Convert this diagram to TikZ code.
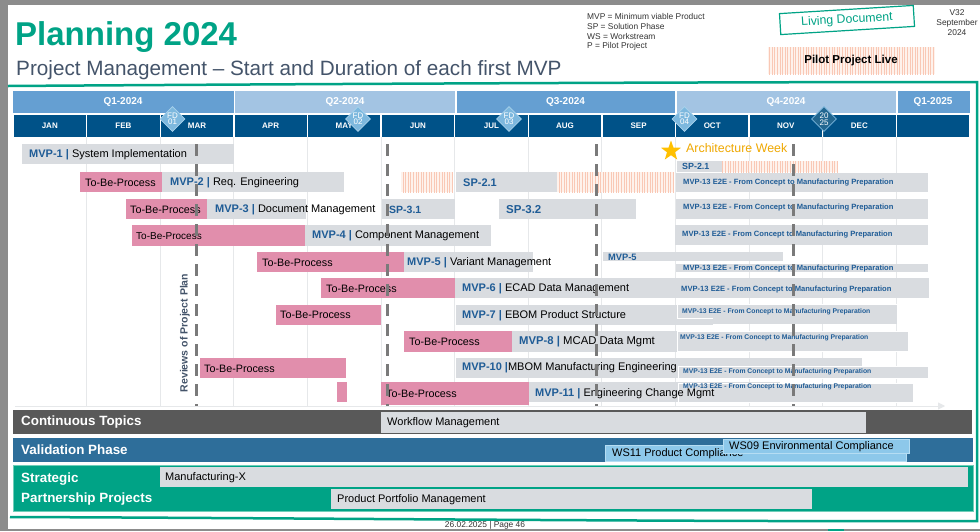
\documentclass[tikz,border=0pt]{standalone}
\usepackage{fontspec}
\setmainfont{Liberation Sans}
\usetikzlibrary{shapes.geometric,patterns.meta,arrows.meta}
\definecolor{pagegray}{HTML}{8C8C8C}
\definecolor{tealc}{HTML}{00A386}
\definecolor{subc}{HTML}{44546A}
\definecolor{legc}{HTML}{333333}
\definecolor{qdark}{HTML}{659FD2}
\definecolor{qlight}{HTML}{A3C4E3}
\definecolor{monc}{HTML}{005288}
\definecolor{fdc}{HTML}{7DB8DE}
\definecolor{fdb}{HTML}{A9D2EC}
\definecolor{fdd}{HTML}{236790}
\definecolor{gridc}{HTML}{E6E8EA}
\definecolor{barg}{HTML}{D9DCE0}
\definecolor{pinkc}{HTML}{E18EAC}
\definecolor{mvpblue}{HTML}{1F5C96}
\definecolor{hatchbg}{HTML}{FEF2EC}
\definecolor{hatchc}{HTML}{F9C8B5}
\definecolor{dashc}{HTML}{7A7A7A}
\definecolor{starc}{HTML}{FFC000}
\definecolor{archc}{HTML}{EFA800}
\definecolor{contc}{HTML}{595959}
\definecolor{valc}{HTML}{2E6E9A}
\definecolor{wsc}{HTML}{8DC8EA}
\definecolor{wsb}{HTML}{B5DDF3}
\definecolor{tealb}{HTML}{6FCDB8}
\newcommand\fsz[1]{\fontsize{#1}{#1}\selectfont}
\newcommand\gb[4]{\fill[barg] (#1,#2) rectangle (#3,#4);}
\newcommand\pb[4]{\fill[pinkc] (#1,#2) rectangle (#3,#4);}
\newcommand\hb[4]{\fill[hatchbg] (#1,#2) rectangle (#3,#4);
  \fill[pattern={Lines[angle=90,distance=2.6pt,line width=1pt]},pattern color=hatchc] (#1,#2) rectangle (#3,#4);}
\newcommand\mv[2]{\textcolor{mvpblue}{\textbf{#1 |}} #2}
\newcommand\mtxt{MVP-13 E2E - From Concept to Manufacturing Preparation}
\begin{document}
\begin{tikzpicture}[x=1pt,y=-1pt,
  lbl/.style={anchor=west,inner sep=0pt,font=\fsz{11}},
  tbp/.style={lbl,font=\fsz{10.75}},
  m13/.style={anchor=west,inner sep=0pt,font=\bfseries\fsz{7.6},text=mvpblue},
  m13s/.style={m13,font=\bfseries\fsz{6.8}},
  spl/.style={anchor=west,inner sep=0pt,font=\bfseries\fsz{11},text=mvpblue},
  qcell/.style={font=\bfseries\fsz{10},text=white,inner sep=0pt},
  mcell/.style={font=\bfseries\fsz{8},text=white,inner sep=0pt},
  fd/.style={diamond,aspect=1,minimum size=25pt,inner sep=0pt,fill=fdc,draw=fdb,line width=0.8pt,text=white,font=\fsz{8},align=center},
  dashline/.style={draw=dashc,line width=3pt,dash pattern=on 12pt off 8pt},
  band/.style={anchor=west,inner sep=0pt,font=\bfseries\fsz{13.4},text=white},
  legend/.style={anchor=west,inner sep=0pt,font=\fsz{8.4},text=legc}]
\useasboundingbox (0,0) rectangle (980,531);
% page
\fill[pagegray] (0,0) rectangle (980,531);
\fill[white] (8,5) rectangle (980,528.5);
% frame line
\draw[tealc,line width=2.5pt] (8,86) .. controls (300,84) and (700,82) .. (977,82) -- (977,521) .. controls (700,522) and (300,518) .. (10,517);
% title
\node[anchor=base west,inner sep=0pt,font=\bfseries\fsz{33},text=tealc] (title) at (15,45) {Planning 2024};
\node[anchor=base west,inner sep=0pt,font=\fsz{20.7},text=subc] (subtitle) at (16,75) {Project Management -- Start and Duration of each first MVP};
% legend
\node[legend] (lg1) at (587,16) {MVP = Minimum viable Product};
\node[legend] (lg2) at (587,26) {SP = Solution Phase};
\node[legend] (lg3) at (587,36) {WS = Workstream};
\node[legend] (lg4) at (587,46) {P = Pilot Project};
\node[rotate=3.5,draw=tealc,line width=1.2pt,text=tealc,font=\fsz{12.3},minimum width=134pt,minimum height=21pt,inner sep=0pt] (living) at (847,20) {Living Document};
\node[font=\fsz{8.4},text=legc,align=center,inner sep=0pt] (ver) at (957,23) {V32\\[1.6pt]September\\[1.6pt]2024};
\hb{768}{47}{935}{74}
\node[font=\bfseries\fsz{11.5},inner sep=0pt] (pilot) at (851,61) {Pilot Project Live};
% quarter row
\fill[qdark] (13,91) rectangle (233.5,113);
\fill[qlight] (235,91) rectangle (455,113);
\fill[qdark] (456.5,91) rectangle (675,113);
\fill[qlight] (676.5,91) rectangle (896,113);
\fill[qdark] (897.5,91) rectangle (969.5,113);
\node[qcell] (q1) at (123,102) {Q1-2024};
\node[qcell] (q2) at (345,102) {Q2-2024};
\node[qcell] (q3) at (565.5,102) {Q3-2024};
\node[qcell] (q4) at (786,102) {Q4-2024};
\node[qcell] (q5) at (933,102) {Q1-2025};
% month row
\foreach \m [count=\k from 0] in {JAN,FEB,MAR,APR,MAY,JUN,JUL,AUG,SEP,OCT,NOV,DEC,{}} {
  \fill[monc] ({13+73.6*\k+0.7},114.5) rectangle ({13+73.6*(\k+1)-0.7},137);
  \node[mcell] (mon\k) at ({13+73.6*(\k+0.5)},126) {\m};
}
% grid
\foreach \k in {1,...,12} \draw[gridc,line width=0.7pt] ({13+73.6*\k},137) -- ({13+73.6*\k},406);
\draw[gridc,line width=0.9pt,-{Triangle[length=7pt,width=7pt]}] (15,406) -- (945,406);
% diamonds
\draw[fdd,line width=0.8pt] (823.5,120) -- (823.5,137);
\node[fd] (fd1) at (172.5,119) {FD\\[-1.5pt]01};
\node[fd] (fd2) at (358,119) {FD\\[-1.5pt]02};
\node[fd] (fd3) at (509,119) {FD\\[-1.5pt]03};
\node[fd] (fd4) at (684.5,119) {FD\\[-1.5pt]04};
\node[fd,fill=fdd,draw=fdc] (fd5) at (824,119) {20\\[-1.5pt]25};
% ---------------- bars ----------------
% row 1
\gb{22}{144}{234}{164}
\node[lbl] (r1) at (29,154.5) {\mv{MVP-1}{System Implementation}};
\node[star,star points=5,star point ratio=2.5,fill=starc,minimum size=21pt,inner sep=0pt] (star) at (671,151) {};
\node[lbl,font=\fsz{12.4},text=archc] (arch) at (686,148.5) {Architecture Week};
\gb{677}{161}{722}{172}
\hb{722}{161}{838}{172}
\node[spl,font=\bfseries\fsz{8.9}] (sp21s) at (682,166.5) {SP-2.1};
% row 2
\pb{80}{172}{162}{192}
\node[tbp] (p2) at (85,182.5) {To-Be-Process};
\gb{162}{172}{344}{192}
\node[lbl] (r2) at (170,182.5) {\mv{MVP-2}{Req. Engineering}};
\hb{401}{172}{453}{192}
\gb{456}{172}{557}{192}
\node[spl] (sp21) at (463,182.5) {SP-2.1};
\hb{557}{172}{674}{192}
\gb{676}{173}{928}{192}
\node[m13] (m2) at (683,183) {\mtxt};
% row 3
\pb{126}{199}{207}{219}
\node[tbp] (p3) at (130,209.5) {To-Be-Process};
\gb{207}{199}{306}{219}
\node[lbl] (r3) at (215,209.5) {\mv{MVP-3}{Document Management}};
\gb{382}{199}{455}{219}
\node[spl,font=\bfseries\fsz{10.5}] (sp31) at (389,209.5) {SP-3.1};
\gb{499}{199}{636}{219}
\node[spl,font=\bfseries\fsz{11.5}] (sp32) at (506,209.5) {SP-3.2};
\gb{676}{199}{928}{219}
\node[m13] (m3) at (683,208) {\mtxt};
% row 4
\pb{132}{225}{305}{246}
\node[tbp,font=\fsz{10}] (p4) at (136,236) {To-Be-Process};
\gb{305}{225}{491}{246}
\node[lbl] (r4) at (312,236) {\mv{MVP-4}{Component Management}};
\gb{675}{225}{928}{245}
\node[m13] (m4) at (682,235) {\mtxt};
% row 5
\pb{257}{252}{404}{272}
\node[tbp] (p5) at (262,262.5) {To-Be-Process};
\gb{404}{252}{533}{272}
\node[lbl] (r5) at (407,262.5) {\mv{MVP-5}{Variant Management}};
\gb{603}{252}{783}{261}
\node[spl,font=\bfseries\fsz{9.3}] (mvp5s) at (608,257) {MVP-5};
\gb{676}{264}{928}{272}
\node[m13] (m5) at (683,269) {\mtxt};
% row 6
\pb{321}{278}{455}{298}
\node[tbp] (p6) at (326,288.5) {To-Be-Process};
\gb{455}{278}{676}{298}
\node[lbl] (r6) at (462,288.5) {\mv{MVP-6}{ECAD Data Management}};
\gb{676}{278}{929}{298}
\node[m13] (m6) at (681,290) {\mtxt};
% row 7
\pb{276}{305}{381}{325}
\node[tbp] (p7) at (280,315) {To-Be-Process};
\gb{456}{305}{713}{325}
\filldraw[fill=barg,draw=white,line width=0.6pt] (677,304) rectangle (897,318);
\fill[barg] (713,318.3) rectangle (897,324);
\node[lbl] (r7) at (462,315.5) {\mv{MVP-7}{EBOM Product Structure}};
\node[m13s] (m7) at (682,312) {\mtxt};
% row 8
\pb{404}{331}{512}{352}
\node[tbp] (p8) at (409,341.5) {To-Be-Process};
\gb{512}{331}{819}{352}
\filldraw[fill=barg,draw=white,line width=0.6pt] (677,331) rectangle (908,351);
\node[lbl,font=\fsz{11.3}] (r8) at (519,342) {\mv{MVP-8}{MCAD Data Mgmt}};
\node[m13s] (m8) at (680,338) {\mtxt};
% row 9
\pb{200}{358}{346}{378}
\node[tbp] (p9) at (204,368.5) {To-Be-Process};
\gb{456}{358}{862}{378}
\node[lbl] (r9) at (462,368) {\textcolor{mvpblue}{\textbf{MVP-10 |}}MBOM Manufacturing Engineering};
\filldraw[fill=barg,draw=white,line width=0.6pt] (678,366) rectangle (928,378);
\node[m13s] (m9) at (683,372) {\mtxt};
% row 10
\pb{337}{382}{347}{402}
\pb{381}{382}{529}{405}
\node[tbp] (p10) at (386,393.5) {To-Be-Process};
\gb{529}{382}{780}{402}
\filldraw[fill=barg,draw=white,line width=0.6pt] (678,383) rectangle (913,402);
\node[lbl] (r10) at (535,393.5) {\mv{MVP-11}{Engineering Change Mgmt}};
\node[m13s] (m10) at (683,386.5) {\mtxt};
% dashed review lines
\draw[dashline] (196,144) -- (196,406);
\draw[dashline] (387,144) -- (387,406);
\draw[dashline] (596,144) -- (596,406);
\draw[dashline] (793,144) -- (793,406);
\node[rotate=90,font=\bfseries\fsz{10.5},text=subc,inner sep=0pt] (rev) at (185,333) {Reviews of Project Plan};
% ---------------- bands ----------------
\fill[contc] (13,410) rectangle (972,434);
\node[band] (cont) at (21,422) {Continuous Topics};
\fill[barg] (381,412) rectangle (866,433);
\node[lbl] (wf) at (387,422.5) {Workflow Management};
\fill[valc] (13,438) rectangle (973,462);
\node[band] (val) at (21,450) {Validation Phase};
\filldraw[fill=wsc,draw=wsb,line width=0.6pt] (605,445) rectangle (906,461);
\node[lbl] (ws11) at (612,453.5) {WS11 Product Compliance};
\filldraw[fill=wsc,draw=wsb,line width=0.6pt] (723,439) rectangle (909,453);
\node[lbl] (ws09) at (729,446.5) {WS09 Environmental Compliance};
\filldraw[fill=tealc,draw=tealb,line width=0.8pt] (13,465) rectangle (973,511);
\node[band] (strat1) at (21,479) {Strategic};
\node[band] (strat2) at (21,499) {Partnership Projects};
\fill[barg] (160,467) rectangle (968,487);
\node[lbl] (mx) at (165,477.5) {Manufacturing-X};
\fill[barg] (331,489) rectangle (812,509);
\node[lbl] (ppm) at (337,499.5) {Product Portfolio Management};
% footer
\node[anchor=north,inner sep=0pt,font=\fsz{8.4},text=legc] (foot) at (485,521) {26.02.2025 | Page 46};
\fill[tealc] (828,528.5) rectangle (844,531);
\end{tikzpicture}
\end{document}
